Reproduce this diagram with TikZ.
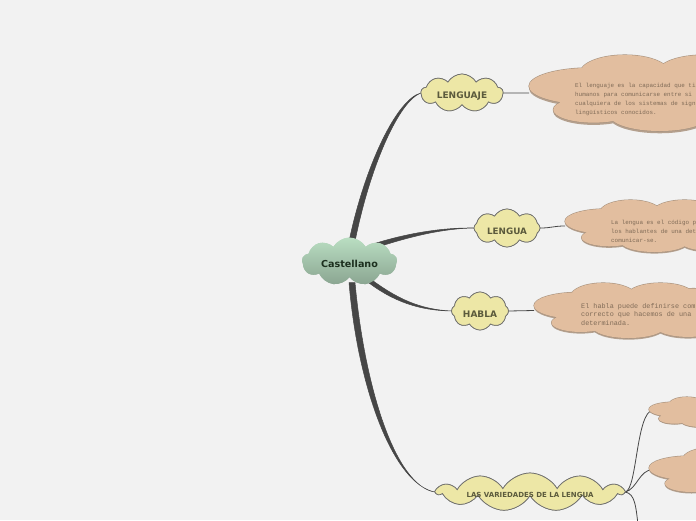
\documentclass[tikz,border=0pt]{standalone}
\usepackage{fontspec}
\setmainfont{DejaVu Sans}
\newfontfamily\labfont{DejaVu Sans}
\newfontfamily\monofont{Liberation Mono}
\usetikzlibrary{shapes.symbols,calc}
\definecolor{bgcol}{HTML}{F2F2F2}
\definecolor{tanfill}{HTML}{E2BE9F}
\definecolor{tanline}{HTML}{A8927E}
\definecolor{tanshadow}{HTML}{B4A08E}
\definecolor{yelfill}{HTML}{EDE7A6}
\definecolor{yelline}{HTML}{6E6E6E}
\definecolor{greentop}{HTML}{BADEC2}
\definecolor{greenbot}{HTML}{8AA591}
\definecolor{conncol}{HTML}{464646}
\definecolor{labcol}{HTML}{5B5A3C}
\definecolor{maincol}{HTML}{1D301F}
\definecolor{desccol}{HTML}{806B57}
\tikzset{
  cloudbase/.style={cloud, cloud ignores aspect, inner sep=0pt, outer sep=0pt},
  yelcloud/.style={cloudbase, fill=yelfill, draw=yelline, line width=0.7pt, cloud puff arc=120},
  maincloud/.style={cloudbase, top color=greentop, bottom color=greenbot, draw=none, cloud puffs=9, cloud puff arc=120},
  lab/.style={text=labcol, font=\labfont\bfseries\fontsize{9}{10}\selectfont, inner sep=0pt},
  desc/.style={text=desccol, align=left, anchor=north west, inner sep=0pt, font=\monofont\fontsize{5.9}{9}\selectfont},
  bigconn/.style={fill=conncol, draw=conncol, line width=0.5pt},
  smallconn/.style={draw=conncol, line width=0.8pt},
  blobbox/.style={inner sep=0pt, outer sep=0pt, anchor=west},
}
% irregular cloud made of overlapping ellipses (unit = cloud height, origin = left tip level)
\newcommand{\blobpath}[1]{\path[#1]
  (0.80,-0.09) ellipse [x radius=0.80, y radius=0.24]
  (1.26,-0.26) ellipse [x radius=0.59, y radius=0.24]
  (2.30,-0.28) ellipse [x radius=0.60, y radius=0.22]
  (0.85,0.22) ellipse [x radius=0.53, y radius=0.17]
  (1.72,0.29) ellipse [x radius=0.66, y radius=0.21]
  (1.70,0.00) ellipse [x radius=1.00, y radius=0.35]
  (2.90,0.00) ellipse [x radius=0.80, y radius=0.40]
  (2.80,0.28) ellipse [x radius=0.60, y radius=0.20];}
\newcommand{\tanblob}[3]{% #1 left x, #2 centre y, #3 height
  \begin{scope}[shift={(#1,#2)}, scale=#3]
    \blobpath{fill=tanshadow, shift={(0,0.03)}}
    \blobpath{draw=tanline, line width=1.1pt}
    \blobpath{fill=tanfill}
  \end{scope}}
\begin{document}
\begin{tikzpicture}[x=1pt,y=-1pt]
\useasboundingbox[fill=bgcol] (0,0) rectangle (696,520);
\clip (0,0) rectangle (696,520);

% ---- named boxes of the description clouds ----
\node[blobbox, minimum width=250, minimum height=76] (d1) at (529,93) {};
\node[blobbox, minimum width=250, minimum height=52] (d2) at (565,226) {};
\node[blobbox, minimum width=272, minimum height=55] (d3) at (534,310.5) {};
\node[blobbox, minimum width=222, minimum height=30] (d4) at (649,412) {};
\node[blobbox, minimum width=222, minimum height=50] (d5) at (649,472.5) {};

% ---- named nodes of the yellow and central clouds ----
\node[yelcloud, cloud puffs=9, minimum width=82, minimum height=38] (y1) at (462,93) {};
\node[yelcloud, cloud puffs=8, minimum width=66, minimum height=38] (y2) at (507,228) {};
\node[yelcloud, cloud puffs=8, minimum width=57, minimum height=38] (y3) at (480,311) {};
\node[yelcloud, cloud puffs=11, minimum width=186, minimum height=38] (y4) at (530,492) {};
\node[maincloud, minimum width=95, minimum height=48] (c) at (349.5,261.5) {};

% ---- connector roots ----
\coordinate (r1) at ($(c)+(2.5,-20)$);
\coordinate (r2) at ($(c)+(26,-16)$);
\coordinate (r3) at ($(c)+(17,17)$);
\coordinate (r4) at ($(c)+(2.5,21)$);
\coordinate (bt) at (639,535);

% ---- thick tapered connectors ----
\path[bigconn] ($(r1)+(-3,0)$) .. controls (365,165) and (397,99) .. (y1.west)
      .. controls (399,101) and (370,166) .. ($(r1)+(3,0)$) -- cycle;
\path[bigconn] ($(r2)+(-0.8,-2)$) .. controls (405,234) and (440,227.5) .. (y2.west)
      .. controls (440,228.5) and (406,238) .. ($(r2)+(0.8,2)$) -- cycle;
\path[bigconn] ($(r3)+(1.2,-1.6)$) .. controls (397,299) and (420,309.5) .. (y3.west)
      .. controls (420,310.5) and (393,302) .. ($(r3)+(-1.2,1.6)$) -- cycle;
\path[bigconn] ($(r4)+(-3,0)$) .. controls (358,390) and (394,484) .. (y4.west)
      .. controls (396,486) and (365,390) .. ($(r4)+(3,0)$) -- cycle;

% ---- thin connectors ----
\draw[smallconn] (y1.east) .. controls +(12,0) and +(-12,0) .. (d1.west);
\draw[smallconn] (y2.east) .. controls +(12,0) and +(-12,0) .. (d2.west);
\draw[smallconn] (y3.east) .. controls +(12,0) and +(-12,0) .. (d3.west);
\draw[smallconn] (y4.east) .. controls +(12,-2) and (636,412) .. ($(d4.west)+(4,-2)$);
\draw[smallconn] (y4.east) .. controls +(12,-3) and (639,470) .. ($(d5.west)+(4,-3)$);
\draw[smallconn] (y4.east) .. controls +(10,2) and (636,505) .. (bt);

% ---- description clouds ----
\tanblob{529}{93}{76}
\tanblob{565}{226}{52}
\tanblob{534}{310.5}{55}
\tanblob{649}{412}{30}
\tanblob{649}{472.5}{50}

% ---- redraw yellow and central clouds on top of the connector ends ----
\node[yelcloud, cloud puffs=9, minimum width=82, minimum height=38] at (y1) {};
\node[yelcloud, cloud puffs=8, minimum width=66, minimum height=38] at (y2) {};
\node[yelcloud, cloud puffs=8, minimum width=57, minimum height=38] at (y3) {};
\node[yelcloud, cloud puffs=11, minimum width=186, minimum height=38] at (y4) {};
\node[maincloud, minimum width=95, minimum height=48] at (c) {};

% ---- labels ----
\node[text=maincol, font=\labfont\bfseries\fontsize{9.6}{11}\selectfont, inner sep=0pt] (ct) at ($(c)+(0,2.5)$) {Castellano};
\node[lab] (t1) at ($(y1)+(0,3)$) {LENGUAJE};
\node[lab, font=\labfont\bfseries\fontsize{8.8}{10}\selectfont] (t2) at ($(y2)+(0,3)$) {LENGUA};
\node[lab] (t3) at ($(y3)+(0,3)$) {HABLA};
\node[lab, font=\labfont\bfseries\fontsize{7}{8}\selectfont] (t4) at ($(y4)+(0,2.5)$) {LAS VARIEDADES DE LA LENGUA};

% ---- description texts ----
\node[desc] (x1) at (575,82.6) {El lenguaje es la capacidad que ti\\humanos para comunicarse entre si\\cualquiera de los sistemas de sign\\lingüísticos conocidos.};
\node[desc] (x2) at (611,220.4) {La lengua es el código p\\los hablantes de una det\\comunicar-se.};
\node[desc, font=\monofont\fontsize{6.8}{8.5}\selectfont] (x3) at (581,303) {El habla puede definirse com\\correcto que hacemos de una\\determinada.};
\end{tikzpicture}
\end{document}
